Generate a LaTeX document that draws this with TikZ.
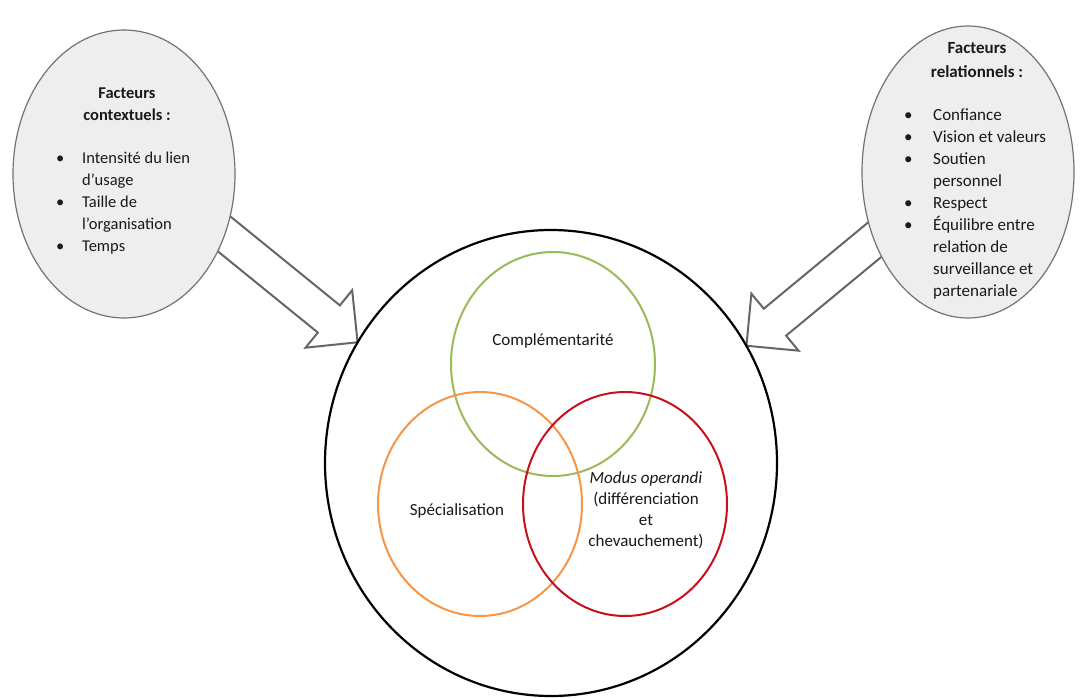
\documentclass[tikz,border=0pt]{standalone}
\usepackage{fontspec}
\setmainfont{Carlito}
\usetikzlibrary{shapes.geometric, shapes.arrows, calc, backgrounds}

\definecolor{vgreen}{RGB}{155,187,89}
\definecolor{vorange}{RGB}{247,150,70}
\definecolor{vred}{RGB}{200,16,30}
\definecolor{ovalgray}{RGB}{238,238,238}

\begin{document}
\begin{tikzpicture}[x=1pt, y=-1pt]
    % Define styles
    \tikzset{
        factor/.style={ellipse, draw=black!55, fill=ovalgray, line width=1.2pt, minimum width=222pt, minimum height=288pt, inner sep=0pt},
        venn/.style={ellipse, line width=2pt, minimum width=204pt, minimum height=224pt, inner sep=0pt},
        blockarrow/.style={single arrow, draw=black!60, line width=2pt, fill=white, inner xsep=0pt, inner ysep=16.5pt, single arrow head extend=19.5pt},
        heading/.style={font=\fontsize{16.5}{22}\selectfont\bfseries, align=center, text=black!90, inner sep=0pt},
        itemlist/.style={font=\fontsize{16.5}{22}\selectfont, text=black!90, inner sep=0pt},
        label/.style={font=\fontsize{17}{21}\selectfont, align=center, text=black!90, inner sep=0pt}
    }
    \useasboundingbox (0,0) rectangle (1081,698);

    % Outer circle
    \node[ellipse, draw, line width=2.2pt, minimum width=452pt, minimum height=466pt] (big) at (551,463) {};

    % Venn circles
    \node[venn, draw=vgreen] (compl) at (553,364) {};
    \node[venn, draw=vorange] (spec) at (480,504) {};
    \node[venn, draw=vred] (modus) at (625,504) {};

    \node[label] (compltxt) at (553,341) {Complémentarité};
    \node[label] (spectxt) at (457,511) {Spécialisation};
    \node[label] (modustxt) at (646,510) {\textit{Modus operandi}\\(différenciation\\et\\chevauchement)};

    % Factor ovals
    \node[factor] (ctx) at (124,174) {};
    \node[factor, minimum width=212pt, minimum height=292pt] (rel) at (968,172) {};

    % Contextual factors
    \node[heading] (ctxhead) at (127,104) {Facteurs\\contextuels :};
    \node[itemlist, anchor=west] (ctxlist) at (56,203) {%
        \begin{tabular}{@{}p{26pt}@{}l@{}}
        \textbullet & Intensité du lien\\
                    & d’usage\\
        \textbullet & Taille de\\
                    & l’organisation\\
        \textbullet & Temps
        \end{tabular}};

    % Relational factors
    \node[heading, font=\fontsize{17}{24}\selectfont\bfseries] (relhead) at (977,60) {Facteurs\\relationnels :};
    \node[itemlist, font=\fontsize{17}{22}\selectfont, anchor=west] (rellist) at (904,204) {%
        \begin{tabular}{@{}p{29pt}@{}l@{}}
        \textbullet & Confiance\\
        \textbullet & Vision et valeurs\\
        \textbullet & Soutien\\
                    & personnel\\
        \textbullet & Respect\\
        \textbullet & Équilibre entre\\
                    & relation de\\
                    & surveillance et\\
                    & partenariale
        \end{tabular}};

    % Block arrows
    \begin{scope}[on background layer]
        \fill[white] (0,0) rectangle (1081,698);
        \path let \p1 = ($(big.148)-(ctx.-31)$), \n1 = {veclen(\x1,\y1)+10} in
            ($(ctx.-31)!-10pt!(big.148)$) -- (big.148)
            node[blockarrow, pos=0, sloped, allow upside down, anchor=tail, minimum height=\n1] (arrL) {};
        \path let \p1 = ($(big.31)-(rel.216)$), \n1 = {veclen(\x1,\y1)+10} in
            ($(rel.216)!-10pt!(big.31)$) -- (big.31)
            node[blockarrow, pos=0, sloped, allow upside down, anchor=tail, minimum height=\n1] (arrR) {};
    \end{scope}
\end{tikzpicture}
\end{document}
